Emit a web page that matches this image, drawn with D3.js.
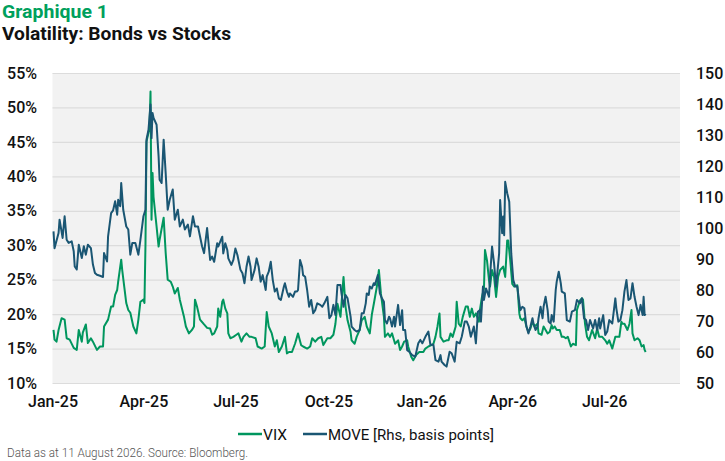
<!DOCTYPE html>
<html>
<head>
<meta charset="utf-8">
<script src="https://cdn.jsdelivr.net/npm/d3@7"></script>
<style>
  body { margin: 0; background: #fff; }
  text { font-family: Roboto, "Noto Sans", sans-serif; }
</style>
</head>
<body>
<div id="chart"></div>
<script>
// Values

var vix = [
  ["2025-01-02",17.7],["2025-01-03",16.3],["2025-01-05",16.0],["2025-01-07",17.7],["2025-01-10",19.4],
  ["2025-01-13",19.2],["2025-01-15",16.5],["2025-01-18",16.3],["2025-01-22",15.1],["2025-01-25",14.8],
  ["2025-01-27",17.7],["2025-01-30",16.0],["2025-01-31",17.3],["2025-02-03",18.5],["2025-02-05",15.8],
  ["2025-02-08",16.5],["2025-02-10",16.0],["2025-02-14",14.8],["2025-02-17",15.3],["2025-02-20",15.3],
  ["2025-02-21",18.2],["2025-02-25",19.2],["2025-02-28",21.1],["2025-03-02",21.1],["2025-03-04",22.8],
  ["2025-03-06",23.5],["2025-03-07",24.7],["2025-03-10",27.9],["2025-03-11",26.4],["2025-03-13",24.0],
  ["2025-03-15",21.6],["2025-03-17",20.6],["2025-03-19",20.2],["2025-03-22",18.2],["2025-03-25",17.2],
  ["2025-03-27",19.2],["2025-03-29",21.8],["2025-04-01",22.1],["2025-04-02",21.6],["2025-04-03",30.0],
  ["2025-04-04",45.0],["2025-04-07",47.0],["2025-04-08",52.3],["2025-04-09",33.7],["2025-04-10",40.5],
  ["2025-04-11",37.0],["2025-04-14",32.7],["2025-04-16",29.8],["2025-04-17",30.8],["2025-04-21",34.0],
  ["2025-04-23",28.9],["2025-04-25",25.0],["2025-04-28",24.7],["2025-04-30",24.0],["2025-05-02",23.0],
  ["2025-05-05",23.8],["2025-05-07",22.1],["2025-05-11",19.7],["2025-05-13",18.2],["2025-05-16",17.2],
  ["2025-05-19",17.7],["2025-05-21",18.2],["2025-05-22",22.1],["2025-05-24",21.1],["2025-05-27",19.2],
  ["2025-05-31",18.5],["2025-06-03",18.0],["2025-06-06",17.9],["2025-06-08",17.0],["2025-06-10",17.2],
  ["2025-06-13",18.2],["2025-06-14",20.8],["2025-06-16",19.6],["2025-06-18",21.8],["2025-06-19",22.1],
  ["2025-06-21",20.8],["2025-06-23",20.1],["2025-06-24",17.2],["2025-06-26",16.5],["2025-06-29",16.7],
  ["2025-07-02",17.0],["2025-07-04",17.2],["2025-07-07",16.0],["2025-07-09",16.7],["2025-07-12",17.2],
  ["2025-07-15",16.7],["2025-07-17",16.7],["2025-07-21",16.5],["2025-07-23",15.3],["2025-07-27",15.0],
  ["2025-07-30",15.3],["2025-08-01",20.3],["2025-08-03",18.2],["2025-08-06",17.2],["2025-08-09",15.3],
  ["2025-08-11",16.2],["2025-08-13",14.5],["2025-08-16",15.3],["2025-08-19",16.7],["2025-08-21",14.3],
  ["2025-08-23",14.5],["2025-08-26",14.5],["2025-08-29",15.7],["2025-09-01",17.2],["2025-09-04",15.5],
  ["2025-09-06",15.3],["2025-09-10",15.0],["2025-09-13",15.3],["2025-09-15",16.5],["2025-09-18",16.0],
  ["2025-09-21",16.5],["2025-09-24",16.7],["2025-09-26",15.5],["2025-09-30",16.5],["2025-10-03",16.5],
  ["2025-10-06",17.0],["2025-10-08",18.6],["2025-10-10",21.5],["2025-10-13",19.6],["2025-10-14",21.5],
  ["2025-10-16",25.4],["2025-10-18",21.1],["2025-10-20",19.1],["2025-10-23",17.4],["2025-10-24",16.2],
  ["2025-10-27",15.7],["2025-10-29",16.7],["2025-11-01",17.7],["2025-11-03",19.1],["2025-11-06",19.6],
  ["2025-11-08",18.2],["2025-11-11",17.2],["2025-11-13",19.9],["2025-11-15",21.5],["2025-11-18",24.0],
  ["2025-11-20",26.4],["2025-11-22",23.0],["2025-11-25",19.6],["2025-11-26",16.7],["2025-11-29",17.2],
  ["2025-12-01",16.7],["2025-12-03",17.2],["2025-12-05",16.2],["2025-12-06",15.7],["2025-12-09",16.2],
  ["2025-12-11",14.8],["2025-12-13",15.3],["2025-12-15",16.0],["2025-12-18",16.2],["2025-12-19",15.3],
  ["2025-12-22",13.8],["2025-12-24",13.3],["2025-12-27",14.1],["2025-12-30",14.5],["2026-01-03",14.5],
  ["2026-01-05",15.0],["2026-01-08",15.3],["2026-01-11",15.5],["2026-01-13",15.7],["2026-01-15",16.7],
  ["2026-01-17",18.2],["2026-01-19",20.1],["2026-01-20",16.7],["2026-01-23",16.0],["2026-01-26",16.2],
  ["2026-01-28",16.2],["2026-01-30",17.2],["2026-02-01",16.7],["2026-02-04",18.2],["2026-02-05",21.8],
  ["2026-02-07",18.6],["2026-02-09",18.2],["2026-02-11",19.6],["2026-02-14",21.1],["2026-02-16",21.1],
  ["2026-02-18",19.6],["2026-02-20",20.8],["2026-02-22",19.6],["2026-02-24",20.1],["2026-02-27",18.9],
  ["2026-02-28",20.6],["2026-03-02",22.5],["2026-03-04",23.7],["2026-03-05",29.3],["2026-03-07",27.8],
  ["2026-03-09",24.9],["2026-03-10",24.0],["2026-03-12",26.4],["2026-03-14",25.4],["2026-03-16",22.5],
  ["2026-03-18",25.4],["2026-03-20",26.4],["2026-03-23",26.9],["2026-03-25",25.4],["2026-03-27",30.7],
  ["2026-03-28",30.7],["2026-03-30",27.8],["2026-04-01",24.4],["2026-04-03",24.0],["2026-04-06",24.2],
  ["2026-04-08",20.1],["2026-04-09",19.4],["2026-04-11",19.1],["2026-04-13",19.4],["2026-04-15",18.2],
  ["2026-04-17",17.4],["2026-04-19",17.9],["2026-04-21",18.9],["2026-04-23",18.2],["2026-04-26",18.6],
  ["2026-04-27",17.2],["2026-04-30",17.0],["2026-05-02",18.2],["2026-05-04",17.7],["2026-05-06",17.2],
  ["2026-05-08",17.4],["2026-05-10",18.4],["2026-05-11",17.9],["2026-05-13",18.2],["2026-05-15",17.7],
  ["2026-05-18",17.7],["2026-05-20",16.7],["2026-05-22",16.7],["2026-05-24",16.5],["2026-05-26",16.7],
  ["2026-05-29",15.3],["2026-05-31",15.7],["2026-06-03",15.5],["2026-06-04",20.6],["2026-06-07",22.0],
  ["2026-06-09",22.3],["2026-06-10",22.1],["2026-06-12",18.6],["2026-06-14",16.7],["2026-06-16",16.2],
  ["2026-06-19",17.7],["2026-06-22",16.5],["2026-06-24",17.9],["2026-06-26",16.7],["2026-06-29",16.7],
  ["2026-07-02",16.2],["2026-07-04",15.7],["2026-07-06",16.2],["2026-07-09",15.0],["2026-07-12",16.7],
  ["2026-07-14",16.7],["2026-07-16",16.7],["2026-07-18",18.9],["2026-07-19",18.6],["2026-07-21",18.6],
  ["2026-07-24",17.7],["2026-07-26",18.6],["2026-07-28",20.6],["2026-07-29",17.2],["2026-07-31",16.2],
  ["2026-08-03",16.5],["2026-08-05",16.2],["2026-08-07",15.3],["2026-08-09",15.5],["2026-08-10",14.8],
  ["2026-08-11",14.5]
];

var move = [
  ["2025-01-02",98.9],["2025-01-03",93.5],["2025-01-07",98.4],["2025-01-08",102.7],["2025-01-11",96.8],
  ["2025-01-13",103.8],["2025-01-15",96.2],["2025-01-17",95.2],["2025-01-20",95.7],["2025-01-22",92.5],
  ["2025-01-23",87.6],["2025-01-25",86.6],["2025-01-27",94.6],["2025-01-30",90.3],["2025-02-01",94.1],
  ["2025-02-03",91.4],["2025-02-05",94.6],["2025-02-08",93.5],["2025-02-10",88.2],["2025-02-12",85.5],
  ["2025-02-14",84.9],["2025-02-17",84.6],["2025-02-20",84.2],["2025-02-21",91.9],["2025-02-24",89.2],
  ["2025-02-25",97.3],["2025-02-28",104.8],["2025-03-02",105.7],["2025-03-04",108.6],["2025-03-06",104.3],
  ["2025-03-07",109.1],["2025-03-09",107.0],["2025-03-10",114.5],["2025-03-12",105.9],["2025-03-15",100.5],
  ["2025-03-17",99.5],["2025-03-19",91.4],["2025-03-21",95.2],["2025-03-24",95.2],["2025-03-27",91.4],
  ["2025-03-29",96.2],["2025-04-01",103.8],["2025-04-03",105.9],["2025-04-04",128.5],["2025-04-06",131.7],
  ["2025-04-08",139.8],["2025-04-09",129.0],["2025-04-10",137.1],["2025-04-11",135.5],["2025-04-14",133.3],
  ["2025-04-16",123.1],["2025-04-17",115.6],["2025-04-19",114.5],["2025-04-21",128.5],["2025-04-23",117.7],
  ["2025-04-25",105.9],["2025-04-27",109.1],["2025-04-30",112.4],["2025-05-02",102.7],["2025-05-05",105.9],
  ["2025-05-07",100.5],["2025-05-10",102.7],["2025-05-12",99.5],["2025-05-15",101.1],["2025-05-17",97.3],
  ["2025-05-20",103.8],["2025-05-22",100.5],["2025-05-25",100.5],["2025-05-29",94.1],["2025-05-31",91.9],
  ["2025-06-03",100.0],["2025-06-06",89.7],["2025-06-08",90.8],["2025-06-10",89.1],["2025-06-13",95.1],
  ["2025-06-14",94.0],["2025-06-16",95.6],["2025-06-18",97.2],["2025-06-19",91.8],["2025-06-21",95.1],
  ["2025-06-23",92.9],["2025-06-24",90.2],["2025-06-27",88.1],["2025-06-29",89.7],["2025-07-01",93.4],
  ["2025-07-03",91.3],["2025-07-06",86.5],["2025-07-08",85.4],["2025-07-10",82.2],["2025-07-12",87.5],
  ["2025-07-14",90.8],["2025-07-16",87.5],["2025-07-17",83.2],["2025-07-20",86.5],["2025-07-22",90.2],
  ["2025-07-24",87.5],["2025-07-26",82.7],["2025-07-28",84.8],["2025-07-31",80.0],["2025-08-01",84.3],
  ["2025-08-03",85.9],["2025-08-05",89.1],["2025-08-07",83.2],["2025-08-09",79.5],["2025-08-11",80.5],
  ["2025-08-13",77.3],["2025-08-15",76.8],["2025-08-18",81.1],["2025-08-19",82.2],["2025-08-21",79.5],
  ["2025-08-23",77.8],["2025-08-24",78.9],["2025-08-27",77.8],["2025-08-29",79.5],["2025-08-31",79.5],
  ["2025-09-01",80.0],["2025-09-03",89.7],["2025-09-05",87.5],["2025-09-06",84.8],["2025-09-08",84.3],
  ["2025-09-10",80.0],["2025-09-12",74.6],["2025-09-14",76.8],["2025-09-16",72.5],["2025-09-18",73.5],
  ["2025-09-20",75.7],["2025-09-23",75.2],["2025-09-25",74.6],["2025-09-27",75.7],["2025-09-30",77.8],
  ["2025-10-02",70.9],["2025-10-04",71.9],["2025-10-06",75.2],["2025-10-08",71.9],["2025-10-10",81.6],
  ["2025-10-13",81.6],["2025-10-14",78.9],["2025-10-16",74.6],["2025-10-18",78.4],["2025-10-20",77.3],
  ["2025-10-23",71.4],["2025-10-24",68.2],["2025-10-27",67.1],["2025-10-29",66.6],["2025-11-01",67.1],
  ["2025-11-03",72.5],["2025-11-05",72.5],["2025-11-07",75.7],["2025-11-08",78.9],["2025-11-10",78.4],
  ["2025-11-11",81.1],["2025-11-13",80.5],["2025-11-15",82.2],["2025-11-16",81.6],["2025-11-19",84.8],
  ["2025-11-21",78.9],["2025-11-23",77.3],["2025-11-25",76.2],["2025-11-26",70.3],["2025-11-28",69.2],
  ["2025-11-30",71.4],["2025-12-01",70.9],["2025-12-03",68.2],["2025-12-05",71.4],["2025-12-06",68.2],
  ["2025-12-09",75.2],["2025-12-11",68.7],["2025-12-13",73.5],["2025-12-14",67.1],["2025-12-16",67.1],
  ["2025-12-18",60.6],["2025-12-20",60.1],["2025-12-23",59.0],["2025-12-26",58.5],["2025-12-29",62.8],
  ["2025-12-31",63.9],["2026-01-02",62.8],["2026-01-05",64.9],["2026-01-08",66.6],["2026-01-10",62.3],
  ["2026-01-13",62.3],["2026-01-15",57.4],["2026-01-18",56.9],["2026-01-20",59.0],["2026-01-21",56.9],
  ["2026-01-24",55.8],["2026-01-26",55.3],["2026-01-29",60.1],["2026-01-31",59.6],["2026-02-03",56.9],
  ["2026-02-05",63.3],["2026-02-08",62.8],["2026-02-10",64.9],["2026-02-13",69.8],["2026-02-15",69.8],
  ["2026-02-17",68.2],["2026-02-19",64.9],["2026-02-22",68.2],["2026-02-24",62.8],["2026-02-26",73.0],
  ["2026-02-28",73.5],["2026-03-01",69.8],["2026-03-03",81.1],["2026-03-04",76.8],["2026-03-06",80.5],
  ["2026-03-09",77.8],["2026-03-10",84.3],["2026-03-12",94.0],["2026-03-14",88.6],["2026-03-16",81.1],
  ["2026-03-19",91.8],["2026-03-20",109.0],["2026-03-22",98.3],["2026-03-23",103.7],["2026-03-24",97.7],
  ["2026-03-25",114.9],["2026-03-27",111.2],["2026-03-29",108.5],["2026-03-31",91.8],["2026-04-02",83.2],
  ["2026-04-04",81.1],["2026-04-06",81.1],["2026-04-08",75.7],["2026-04-09",73.5],["2026-04-11",74.6],
  ["2026-04-13",74.1],["2026-04-15",68.2],["2026-04-17",66.0],["2026-04-19",68.2],["2026-04-21",70.9],
  ["2026-04-22",69.2],["2026-04-24",67.1],["2026-04-26",68.2],["2026-04-27",70.9],["2026-04-29",74.6],
  ["2026-05-01",70.9],["2026-05-02",74.6],["2026-05-04",77.8],["2026-05-06",73.5],["2026-05-07",69.8],
  ["2026-05-09",69.2],["2026-05-10",71.9],["2026-05-12",69.8],["2026-05-14",80.0],["2026-05-15",82.7],
  ["2026-05-17",85.9],["2026-05-19",82.2],["2026-05-20",79.5],["2026-05-23",78.9],["2026-05-25",70.3],
  ["2026-05-28",69.8],["2026-05-30",73.0],["2026-06-02",73.5],["2026-06-04",76.8],["2026-06-07",75.7],
  ["2026-06-09",77.3],["2026-06-11",70.9],["2026-06-13",70.3],["2026-06-15",67.1],["2026-06-17",70.3],
  ["2026-06-20",67.6],["2026-06-22",70.3],["2026-06-24",67.1],["2026-06-26",70.9],["2026-06-27",67.6],
  ["2026-06-30",71.9],["2026-07-02",65.5],["2026-07-04",66.6],["2026-07-06",70.3],["2026-07-09",69.2],
  ["2026-07-12",77.3],["2026-07-13",74.1],["2026-07-15",69.8],["2026-07-17",70.3],["2026-07-19",73.5],
  ["2026-07-21",79.5],["2026-07-23",83.2],["2026-07-25",76.8],["2026-07-27",77.3],["2026-07-29",82.2],
  ["2026-07-31",77.8],["2026-08-02",74.6],["2026-08-04",71.9],["2026-08-06",75.2],["2026-08-08",71.9],
  ["2026-08-09",77.8],["2026-08-10",71.9],["2026-08-11",72.3]
];

var leftTicks = [10, 15, 20, 25, 30, 35, 40, 45, 50, 55];
var rightTicks = [50, 60, 70, 80, 90, 100, 110, 120, 130, 140, 150];
var monthTicks = ["2025-01-01", "2025-04-01", "2025-07-01", "2025-10-01",
                  "2026-01-01", "2026-04-01", "2026-07-01"];
var xDomain = ["2025-01-01", "2026-09-14"];

var seriesNames = ["VIX", "MOVE [Rhs, basis points]"];

// Setup

var width = 725,
    height = 461,
    plot = {left: 52.5, right: 680, top: 73, bottom: 383},
    green = "#00965e",
    navy = "#1a5673";

var parseDate = d3.timeParse("%Y-%m-%d"),
    fmtMonth = d3.timeFormat("%b-%y");

var x = d3.scaleTime()
    .domain(xDomain.map(parseDate))
    .range([plot.left, plot.right]);

var yLeft = d3.scaleLinear()
    .domain([10, 55])
    .range([plot.bottom, plot.top]);

var yRight = d3.scaleLinear()
    .domain([50, 150])
    .range([plot.bottom, plot.top]);

var svg = d3.select("#chart").append("svg")
    .attr("width", width)
    .attr("height", height);

// Titles

svg.append("text")
    .attr("x", 2).attr("y", 18)
    .attr("fill", "#00a05c")
    .style("font-size", "18px").style("font-weight", 700)
    .attr("textLength", 106).attr("lengthAdjust", "spacingAndGlyphs")
    .text("Graphique 1");

svg.append("text")
    .attr("x", 2).attr("y", 40)
    .attr("fill", "#111")
    .style("font-size", "18px").style("font-weight", 700)
    .attr("textLength", 229).attr("lengthAdjust", "spacingAndGlyphs")
    .text("Volatility: Bonds vs Stocks");

// Plot area and gridlines

svg.append("rect")
    .attr("x", plot.left).attr("y", plot.top)
    .attr("width", plot.right - plot.left)
    .attr("height", plot.bottom - plot.top)
    .attr("fill", "#f2f2f2");

svg.append("g")
    .attr("transform", "translate(" + plot.left + ",0)")
    .call(d3.axisLeft(yLeft).tickValues(leftTicks)
        .tickSize(-(plot.right - plot.left)).tickFormat(""))
    .call(function(g) {
      g.select(".domain").remove();
      g.selectAll("line").attr("stroke", "#dcdcdc").attr("stroke-width", 1.2);
    });

// Left axis labels
var leftAxis = svg.append("g")
    .attr("transform", "translate(37,0)")
    .call(d3.axisLeft(yLeft).tickValues(leftTicks).tickSize(0).tickPadding(0)
        .tickFormat(function(d) { return d + "%"; }));
leftAxis.select(".domain").remove();
leftAxis.selectAll("text")
    .attr("fill", "#111")
    .style("font-size", "16px").style("font-weight", 500);

// Right axis labels
var rightAxis = svg.append("g")
    .attr("transform", "translate(696,0)")
    .call(d3.axisRight(yRight).tickValues(rightTicks).tickSize(0).tickPadding(0));
rightAxis.select(".domain").remove();
rightAxis.selectAll("text")
    .attr("fill", "#111")
    .style("font-size", "16px").style("font-weight", 500);

// Bottom axis labels
var bottomAxis = svg.append("g")
    .attr("transform", "translate(0,396)")
    .call(d3.axisBottom(x).tickValues(monthTicks.map(parseDate))
        .tickSize(0).tickPadding(0).tickFormat(fmtMonth));
bottomAxis.select(".domain").remove();
bottomAxis.selectAll("text")
    .attr("fill", "#111")
    .style("font-size", "16px").style("font-weight", 500);

// Lines

var vixLine = d3.line()
    .x(function(d) { return x(parseDate(d[0])); })
    .y(function(d) { return yLeft(d[1]); });

var moveLine = d3.line()
    .x(function(d) { return x(parseDate(d[0])); })
    .y(function(d) { return yRight(d[1]); });

svg.append("path")
    .datum(vix)
    .attr("d", vixLine)
    .attr("fill", "none")
    .attr("stroke", green)
    .attr("stroke-width", 2)
    .attr("stroke-linejoin", "round");

svg.append("path")
    .datum(move)
    .attr("d", moveLine)
    .attr("fill", "none")
    .attr("stroke", navy)
    .attr("stroke-width", 2)
    .attr("stroke-linejoin", "round");

// Legend

var legendItems = [
  {name: seriesNames[0], color: green, x: 238, w: 24},
  {name: seriesNames[1], color: navy, x: 303, w: 166}
];

var legend = svg.selectAll(".legend").data(legendItems)
  .enter().append("g")
    .attr("class", "legend")
    .attr("transform", function(d) { return "translate(" + d.x + ",434)"; });

legend.append("line")
    .attr("x1", 0).attr("x2", 24)
    .attr("stroke", function(d) { return d.color; })
    .attr("stroke-width", 2.5);

legend.append("text")
    .attr("x", 25).attr("y", 6)
    .attr("fill", "#111")
    .style("font-size", "15px")
    .attr("textLength", function(d) { return d.w; })
    .attr("lengthAdjust", "spacingAndGlyphs")
    .text(function(d) { return d.name; });

// Source

svg.append("text")
    .attr("x", 7).attr("y", 457)
    .attr("fill", "#555")
    .style("font-size", "12px").style("font-weight", 300)
    .attr("textLength", 241).attr("lengthAdjust", "spacingAndGlyphs")
    .text("Data as at 11 August 2026. Source: Bloomberg.");
</script>
</body>
</html>
